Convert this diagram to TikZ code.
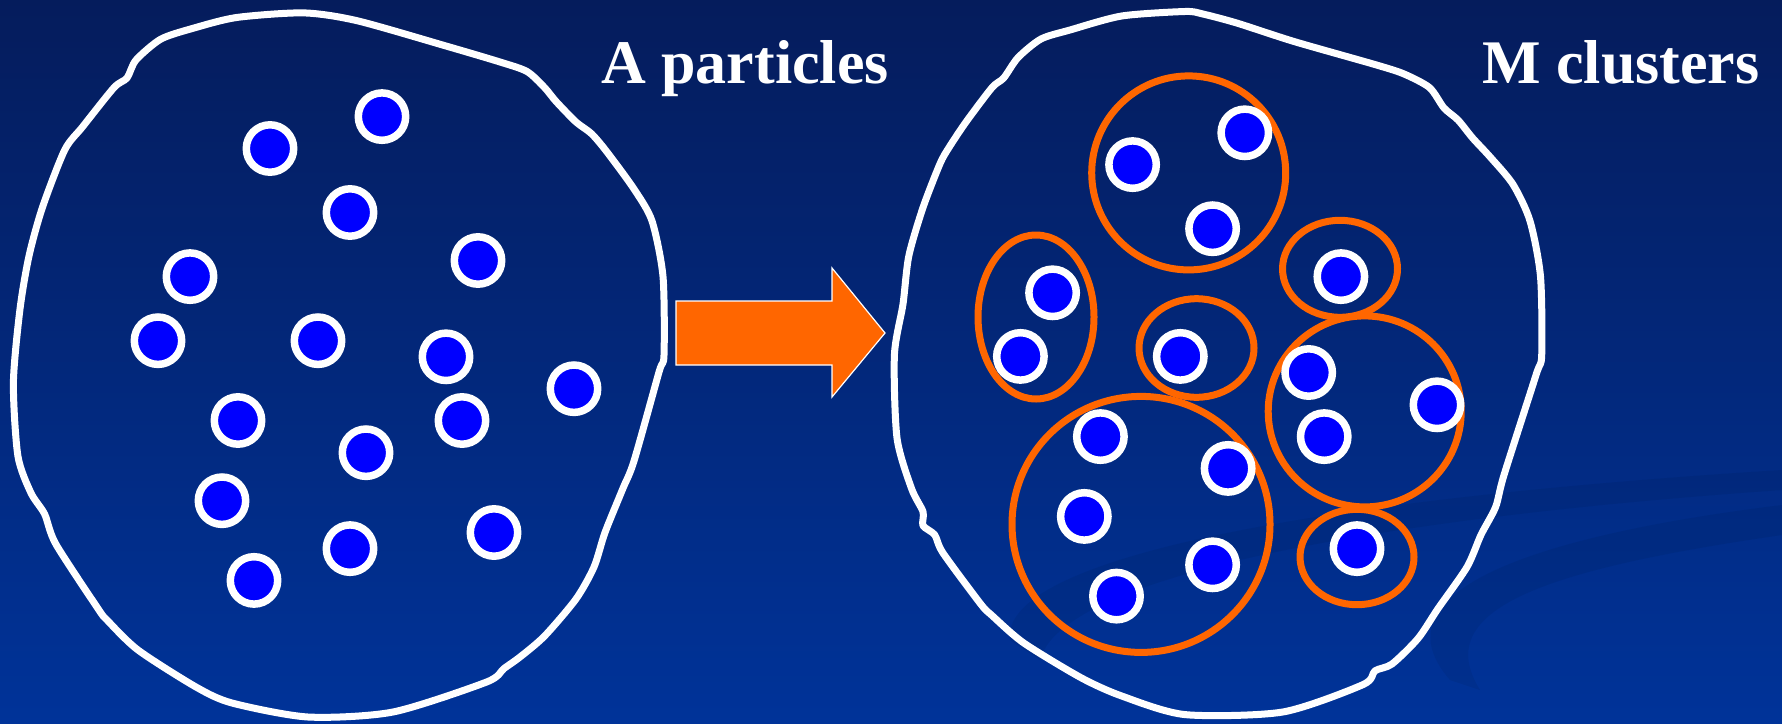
\documentclass[tikz,border=0pt]{standalone}
\usepackage{fontspec}
\setmainfont{Liberation Serif}
\usetikzlibrary{shapes.geometric}
\definecolor{bgtop}{RGB}{5,28,92}
\definecolor{bgmid}{RGB}{0,44,136}
\definecolor{bgbot}{RGB}{0,51,153}
\definecolor{orng}{RGB}{255,102,0}
\definecolor{pblue}{RGB}{0,0,255}
\tikzset{
  particle/.style={circle, inner sep=0pt, minimum size=47.4pt, fill=pblue, draw=white, line width=7.5pt},
  cluster/.style={ellipse, inner sep=0pt, draw=orng, line width=7pt},
  blob/.style={draw=white, line width=7pt, line join=round},
  label/.style={text=white, font=\bfseries\fontsize{62}{70}\selectfont, inner sep=0pt, anchor=base west},
  swoosh/.style={fill=black, fill opacity=0.06, draw=none}
}
\begin{document}
\begin{tikzpicture}[x=1pt,y=-1pt]
\useasboundingbox (0,0) rectangle (1782,723);
\shade[top color=bgtop, middle color=bgmid, bottom color=bgbot] (0,0) rectangle (1782,723);
% faint background swooshes
\path[swoosh] (1010,640) .. controls (1000,560) and (1300,500) .. (1782,470) -- (1782,490) .. controls (1350,520) and (1060,580) .. (1040,660) -- cycle;
\path[swoosh] (1450,680) .. controls (1380,600) and (1500,540) .. (1782,505) -- (1782,535) .. controls (1540,570) and (1430,610) .. (1480,690) -- cycle;
% left blob
\draw[blob] plot[smooth cycle, tension=0.45] coordinates {
(303.6,12.9) (357,20.7) (446,46) (500,62) (527,71.5) (544.6,87.6) (556,101.4) (576,122) (591.5,133.7) (607,152) (634,189) (652,221) (663,276.6) (664,355) (659,372) (634,461) (622.8,488.7) (605,532.5) (594,567) (576,599) (544.6,636) (520,657) (504,668.5) (486.6,682) (393,712) (308,717) (232,703) (196,687) (138,650) (107,620) (98,608.6) (55.8,544) (44.6,514) (31,493) (17.9,456) (13.4,382.7) (20,309) (29,256) (42.4,207.5) (64.7,150) (82.6,126.8) (114,87.6) (127,78) (136,60) (160.7,39.2) (192,28.6) (236.6,17.5)};
% right blob
\draw[blob] plot[smooth cycle, tension=0.45] coordinates {
(1185,11.5) (1202,13.8) (1236.7,23) (1294,41.5) (1374.8,64.5) (1403.6,73.8) (1429.5,87.6) (1444,108) (1458,120) (1472.6,138) (1490,156.8) (1513,184.4) (1530,221) (1540.5,276.6) (1541.7,355) (1536,375) (1504,475) (1495.6,507) (1481,534.8) (1467,567) (1438,608.6) (1418,638.5) (1392,664) (1375,670.8) (1363,684.6) (1282.8,712) (1185,714.6) (1121.7,696) (1081,677.7) (1023.8,643) (992,615.5) (980.7,604) (943,553) (934.7,534.8) (923,525.6) (923,511.7) (911.6,488.7) (897,438) (894.4,355) (903,304) (908.8,256) (923,207.5) (940,163.7) (949,147.5) (966,122) (992,87.6) (1003.7,78) (1018,57.6) (1041,39) (1070,30) (1121.7,16)};
% arrow
\filldraw[fill=orng, draw=white, line width=1.2pt, line join=miter]
  (676,301) -- (832,301) -- (832,268) -- (885,333) -- (832,397) -- (832,365) -- (676,365) -- cycle;
% labels
\node[label] (lblA) at (601,83.5) {A particles};
\node[label] (lblM) at (1482,83.5) {M clusters};
% left particles
\node[particle] (l1) at (270,148.5) {};
\node[particle] (l2) at (382,116.6) {};
\node[particle] (l3) at (350,212.5) {};
\node[particle] (l4) at (190,276.6) {};
\node[particle] (l5) at (478,260.5) {};
\node[particle] (l6) at (158,340.7) {};
\node[particle] (l7) at (318,340.7) {};
\node[particle] (l8) at (446,356.8) {};
\node[particle] (l9) at (574,388.7) {};
\node[particle] (l10) at (238,420.5) {};
\node[particle] (l11) at (462,420.5) {};
\node[particle] (l12) at (366,452.7) {};
\node[particle] (l13) at (222,500.7) {};
\node[particle] (l14) at (494,532.5) {};
\node[particle] (l15) at (350,548.6) {};
\node[particle] (l16) at (254,580.4) {};
% clusters
\node[cluster, minimum width=194pt, minimum height=194pt] (c1) at (1188.7,172.9) {};
\node[cluster, minimum width=116pt, minimum height=164pt] (c2) at (1036,317) {};
\node[cluster, minimum width=115pt, minimum height=98.6pt] (c3) at (1196.5,348) {};
\node[cluster, minimum width=115pt, minimum height=97pt] (c4) at (1340,268.8) {};
\node[cluster, minimum width=193pt, minimum height=191pt] (c5) at (1364.7,411.4) {};
\node[cluster, minimum width=114pt, minimum height=95.4pt] (c6) at (1357,557) {};
\node[cluster, minimum width=258pt, minimum height=256pt] (c7) at (1141,524.4) {};
% right particles
\node[particle] (r1) at (1132.6,164.6) {};
\node[particle] (r2) at (1244.8,132.8) {};
\node[particle] (r3) at (1212.6,228.7) {};
\node[particle] (r4) at (1340.9,276.6) {};
\node[particle] (r5) at (1052.6,292.8) {};
\node[particle] (r6) at (1020.4,356.4) {};
\node[particle] (r7) at (1180.3,356.4) {};
\node[particle] (r8) at (1308.7,372.5) {};
\node[particle] (r9) at (1437,404.8) {};
\node[particle] (r10) at (1324.2,436.6) {};
\node[particle] (r11) at (1100.4,436.6) {};
\node[particle] (r12) at (1228.1,468.4) {};
\node[particle] (r13) at (1084.3,516.4) {};
\node[particle] (r14) at (1357,548.6) {};
\node[particle] (r15) at (1212.6,564.8) {};
\node[particle] (r16) at (1116.5,596.1) {};
\end{tikzpicture}
\end{document}
